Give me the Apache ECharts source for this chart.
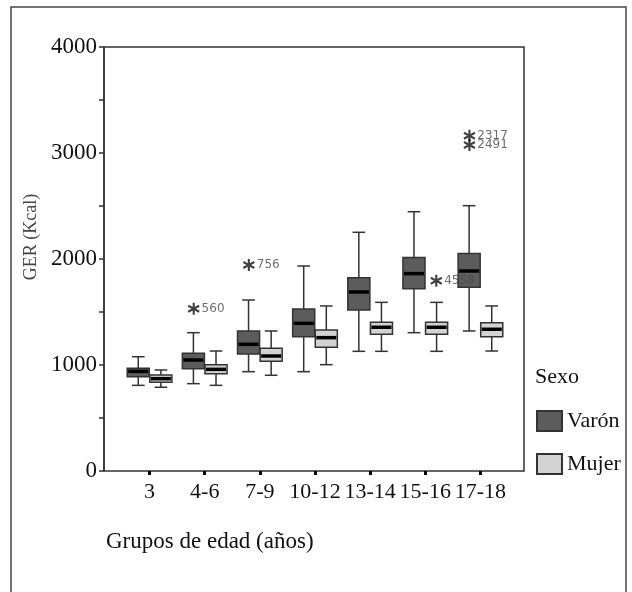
<!DOCTYPE html>
<html><head><meta charset="utf-8">
<script src="https://cdn.jsdelivr.net/npm/echarts@6/dist/echarts.min.js"></script>
<style>html,body{margin:0;padding:0;background:#fff}#c{width:632px;height:592px}</style>
</head><body><div id="c"></div>
<script>
const categories = ['3', '4-6', '7-9', '10-12', '13-14', '15-16', '17-18'];
// [min, q1, median, q3, max]
const varonStats = [
  [808, 890, 940, 969, 1078],
  [824, 965, 1047, 1110, 1305],
  [937, 1104, 1195, 1321, 1613],
  [937, 1267, 1393, 1528, 1934],
  [1129, 1519, 1689, 1824, 2252],
  [1305, 1720, 1862, 2013, 2446],
  [1321, 1733, 1887, 2053, 2503]
];
const mujerStats = [
  [790, 837, 871, 906, 953],
  [808, 918, 959, 1003, 1132],
  [903, 1035, 1085, 1157, 1321],
  [1003, 1167, 1258, 1330, 1557],
  [1129, 1290, 1356, 1403, 1591],
  [1129, 1290, 1356, 1403, 1591],
  [1132, 1267, 1337, 1399, 1557]
];
// [category index, value, case label]
const varonOutliers = [[1, 1530, '560'], [2, 1943, '756'], [6, 3163, '2317'], [6, 3075, '2491']];
const mujerOutliers = [[5, 1795, '4558']];
const yTicks = [0, 1000, 2000, 3000, 4000];

const SERIF = 'Liberation Serif';
const VARON = '#5c5c5c', MUJER = '#d3d3d3';

function makeRender(side, color) {
  return function (params, api) {
    const i = api.value(0);
    const band = api.size([1, 0])[0];
    const cx = api.coord([i, 0])[0] + side * band * 0.205;
    const bw = band * 0.4, cw = band * 0.23;
    const y = k => api.coord([i, api.value(k)])[1];
    const yMin = y(1), yQ1 = y(2), yMed = y(3), yQ3 = y(4), yMax = y(5);
    const line = { stroke: '#333', lineWidth: 1.5 };
    return {
      type: 'group', children: [
        { type: 'line', shape: { x1: cx, y1: yMax, x2: cx, y2: yQ3 }, style: line },
        { type: 'line', shape: { x1: cx, y1: yQ1, x2: cx, y2: yMin }, style: line },
        { type: 'line', shape: { x1: cx - cw / 2, y1: yMax, x2: cx + cw / 2, y2: yMax }, style: line },
        { type: 'line', shape: { x1: cx - cw / 2, y1: yMin, x2: cx + cw / 2, y2: yMin }, style: line },
        { type: 'rect', shape: { x: cx - bw / 2, y: yQ3, width: bw, height: yQ1 - yQ3 }, style: { fill: color, stroke: '#333', lineWidth: 1.5 } },
        { type: 'line', shape: { x1: cx - bw / 2 + 1, y1: yMed, x2: cx + bw / 2 - 1, y2: yMed }, style: { stroke: '#000', lineWidth: 3.5 } }
      ]
    };
  };
}

const starPath = 'path://M0,-5L0,5M-4.33,-2.5L4.33,2.5M-4.33,2.5L4.33,-2.5';
function outlierSeries(name, data, off) {
  return {
    type: 'scatter', name: name, xAxisIndex: 0, yAxisIndex: 0,
    data: data, symbol: starPath, symbolSize: [11, 12], symbolOffset: [off, 0],
    itemStyle: { color: 'none', borderColor: '#111', borderWidth: 2.2 },
    label: { show: true, position: 'right', distance: 0, formatter: p => p.value[2],
      fontFamily: 'DejaVu Sans', fontSize: 12, color: '#4a4a4a', offset: [0, 2] },
    labelLayout: { hideOverlap: false },
    zlevel: 1, z: 10
  };
}

const chart = echarts.init(document.getElementById('c'), null, { renderer: 'canvas' });
chart.setOption({
  backgroundColor: '#fff',
  animation: false,
  grid: [
    { left: 122, right: 124, top: 47, bottom: 121 },
    { left: 104, right: 108, top: 47, bottom: 121, show: true, borderColor: '#333', borderWidth: 1.5, backgroundColor: 'transparent' }
  ],
  xAxis: [
    { type: 'category', gridIndex: 0, data: categories, boundaryGap: true,
      axisLine: { show: false },
      axisTick: { show: true, alignWithLabel: true, length: 4, lineStyle: { color: '#000', width: 3 } },
      axisLabel: { interval: 0, margin: 10, fontFamily: SERIF, fontSize: 22, color: '#111' } },
    { type: 'value', gridIndex: 1, show: false, min: 0, max: 1 }
  ],
  yAxis: [
    { type: 'value', gridIndex: 0, min: 0, max: 4000, show: false },
    { type: 'value', gridIndex: 1, min: 0, max: 4000, interval: 500,
      name: 'GER (Kcal)', nameLocation: 'middle', nameGap: 62,
      nameTextStyle: { fontFamily: SERIF, fontSize: 18, color: '#444', padding: [0, 0, 0, 44] },
      axisLine: { show: true, lineStyle: { color: '#333', width: 1.5 } },
      axisTick: { show: true, length: 5, lineStyle: { color: '#333', width: 1.5 } },
      axisLabel: { margin: 7, fontFamily: SERIF, fontSize: 23, color: '#111',
        formatter: v => (yTicks.indexOf(v) >= 0 ? String(v) : '') },
      splitLine: { show: false } }
  ],
  legend: {
    data: [{ name: 'Varón', icon: 'rect' }, { name: 'Mujer', icon: 'rect' }],
    orient: 'vertical', left: 536, top: 410, padding: 0, itemWidth: 25, itemHeight: 20, itemGap: 21,
    selectedMode: false,
    textStyle: { fontFamily: SERIF, fontSize: 22, color: '#111' }
  },
  graphic: [
    { type: 'rect', shape: { x: 11, y: 7, width: 615, height: 620 }, style: { fill: 'none', stroke: '#444', lineWidth: 1.5 }, silent: true },
    { type: 'text', left: 106, top: 530, style: { text: 'Grupos de edad (años)', font: '23px "Liberation Serif"', fill: '#111' } },
    { type: 'text', left: 535, top: 366, style: { text: 'Sexo', font: '22px "Liberation Serif"', fill: '#111' } }
  ],
  series: [
    { type: 'custom', name: 'Varón', xAxisIndex: 0, yAxisIndex: 0, z: 2,
      itemStyle: { color: VARON, borderColor: '#333', borderWidth: 1.5 },
      renderItem: makeRender(-1, VARON), encode: { x: 0, y: [1, 2, 3, 4, 5] },
      data: varonStats.map((s, i) => [i].concat(s)) },
    { type: 'custom', name: 'Mujer', xAxisIndex: 0, yAxisIndex: 0, z: 2,
      itemStyle: { color: MUJER, borderColor: '#333', borderWidth: 1.5 },
      renderItem: makeRender(1, MUJER), encode: { x: 0, y: [1, 2, 3, 4, 5] },
      data: mujerStats.map((s, i) => [i].concat(s)) },
    outlierSeries('Varón atípicos', varonOutliers, -11),
    outlierSeries('Mujer atípicos', mujerOutliers, 11)
  ]
});
</script></body></html>
